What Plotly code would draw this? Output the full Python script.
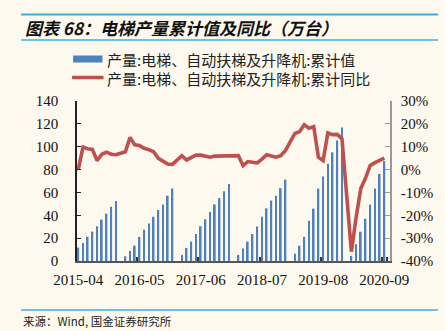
import pandas as pd
import plotly.graph_objects as go

# ---------------- data ----------------
months = list(pd.date_range("2015-04-01", periods=66, freq="MS").strftime("%Y-%m"))

# cumulative production (万台); January not published separately
cum_value = [
    11.7, 15.7, 21.3, 25.7, 30.3, 36.2, 41.4, 47.5, 52.5,              # 2015-04..12
    None, 4.1, 8.7, 13.4, 21.0, 27.4, 32.9, 38.7, 44.6, 49.5, 57.2, 63.5,  # 2016
    None, 5.3, 11.4, 17.0, 23.7, 30.4, 36.5, 42.8, 49.5, 55.0, 61.0, 67.3,  # 2017
    None, 5.3, 10.9, 16.9, 23.6, 30.2, 38.8, 46.1, 52.9, 57.2, 63.7, 71.2,  # 2018
    None, 6.4, 13.4, 21.2, 35.3, 45.8, 63.4, 73.9, 85.2, 95.0, 105.5, 116.8,  # 2019
    None, 4.5, 14.6, 25.6, 37.1, 49.4, 63.4, 76.2, 87.4,               # 2020-01..09
]

# cumulative YoY (%)
cum_yoy = [
    0.0, 9.8, 9.1, 8.8, 3.9, 6.7, 7.6, 6.7, 6.5,
    None, 7.8, 14.1, 10.8, 10.5, 9.3, 8.7, 7.8, 4.9, 3.5, 2.4, 2.3,
    None, 6.1, 4.2, 5.4, 6.3, 6.3, 5.9, 5.4, 5.9, 5.9, 5.8, 5.8,
    None, 6.1, 1.7, 3.5, 3.2, 2.9, 4.6, 6.5, 5.9, 5.4, 6.1, 8.4,
    None, 15.8, 16.6, 19.6, 18.1, 18.8, 5.4, 3.9, 16.0, 15.3, 15.4, 13.4,
    None, -35.9, -21.0, -8.3, -3.7, 1.8, 3.0, 3.9, 5.0,
]

x_ticks = ["2015-04", "2016-05", "2017-06", "2018-07", "2019-08", "2020-09"]
left_ticks = [0, 20, 40, 60, 80, 100, 120, 140]
right_tickvals = [-40, -30, -20, -10, 0, 10, 20, 30]
right_ticktext = ["-40%", "-30%", "-20%", "-10%", "0%", "10%", "20%", "30%"]

title_text = "图表 68：电梯产量累计值及同比（万台）"
legend_bar = "产量:电梯、自动扶梯及升降机:累计值"
legend_line = "产量:电梯、自动扶梯及升降机:累计同比"
source_text = "来源：Wind, 国金证券研究所"

# ---------------- layout helpers ----------------
W, H = 445, 331
ML, MR, MT, MB = 77, 49, 101, 70
PW, PH = W - ML - MR, H - MT - MB


def px(x):
    return (x - ML) / PW


def py(y):
    return (H - MB - y) / PH


BG = "#FDF9EF"
BLUE = "#4F81BD"
RED = "#C0504D"
RULE = "#3AAEE6"
SERIF = "Liberation Serif, Times New Roman, serif"
CJK = "Noto Sans CJK SC, sans-serif"

fig = go.Figure()
fig.add_trace(go.Bar(
    x=months, y=cum_value, name=legend_bar,
    marker=dict(color=BLUE, line=dict(width=0)),
    width=0.36, yaxis="y",
))
fig.add_trace(go.Scatter(
    x=months, y=cum_yoy, name=legend_line, mode="lines",
    line=dict(color=RED, width=3.6), connectgaps=True, yaxis="y2",
))

fig.update_layout(
    width=W, height=H,
    margin=dict(l=ML, r=MR, t=MT, b=MB, pad=0),
    paper_bgcolor=BG, plot_bgcolor=BG,
    showlegend=False,
    xaxis=dict(
        type="category", range=[-0.27, 66.2],
        tickmode="array", tickvals=x_ticks, ticktext=x_ticks, tickangle=0,
        tickson="boundaries", ticks="inside", ticklen=4, tickwidth=2,
        tickcolor="#333", showgrid=False, zeroline=False,
        showline=True, linecolor="#555", linewidth=2,
        tickfont=dict(family=SERIF, size=15, color="#111"),
        ticklabelstandoff=4,
    ),
    yaxis=dict(
        range=[0, 140], tickvals=left_ticks, ticks="inside", ticklen=4,
        tickcolor="#222", showgrid=False, zeroline=False,
        showline=True, linecolor="#222", linewidth=1.5,
        tickfont=dict(family=SERIF, size=15, color="#111"),
        ticklabelstandoff=14,
    ),
    yaxis2=dict(
        range=[-40, 30], overlaying="y", side="right",
        tickvals=right_tickvals, ticktext=right_ticktext,
        ticks="inside", ticklen=5, tickcolor="#999",
        showgrid=False, zeroline=False,
        showline=True, linecolor="#999", linewidth=1.5,
        tickfont=dict(family=SERIF, size=15, color="#111"),
        ticklabelstandoff=6,
    ),
)

shapes = [
    dict(type="line", xref="paper", yref="paper", x0=px(20), x1=px(445),
         y0=py(14.5), y1=py(14.5), line=dict(color=RULE, width=2)),
    dict(type="line", xref="paper", yref="paper", x0=px(20), x1=px(445),
         y0=py(40), y1=py(40), line=dict(color=RULE, width=1.5)),
    dict(type="line", xref="paper", yref="paper", x0=px(20), x1=px(445),
         y0=py(310), y1=py(310), line=dict(color=RULE, width=1.5)),
    dict(type="rect", xref="paper", yref="paper", x0=px(73), x1=px(103),
         y0=py(62.5), y1=py(55.5), line=dict(width=0), fillcolor=BLUE),
    dict(type="line", xref="paper", yref="paper", x0=px(72), x1=px(104),
         y0=py(77.5), y1=py(77.5), line=dict(color=RED, width=3.5)),
]
fig.update_layout(shapes=shapes)

annotations = [
    dict(text="<b><i>" + title_text + "</i></b>", xref="paper", yref="paper",
         x=px(22), y=py(27), xanchor="left", yanchor="middle", showarrow=False,
         font=dict(family=CJK, size=17, color="#111")),
    dict(text=legend_bar, xref="paper", yref="paper",
         x=px(106), y=py(59.5), xanchor="left", yanchor="middle", showarrow=False,
         font=dict(family=CJK, size=15, color="#222")),
    dict(text=legend_line, xref="paper", yref="paper",
         x=px(106), y=py(78.5), xanchor="left", yanchor="middle", showarrow=False,
         font=dict(family=CJK, size=15, color="#222")),
    dict(text=source_text, xref="paper", yref="paper",
         x=px(20), y=py(321), xanchor="left", yanchor="middle", showarrow=False,
         font=dict(family=CJK, size=11.5, color="#222")),
]
fig.update_layout(annotations=annotations)

fig.write_html("out.html")
